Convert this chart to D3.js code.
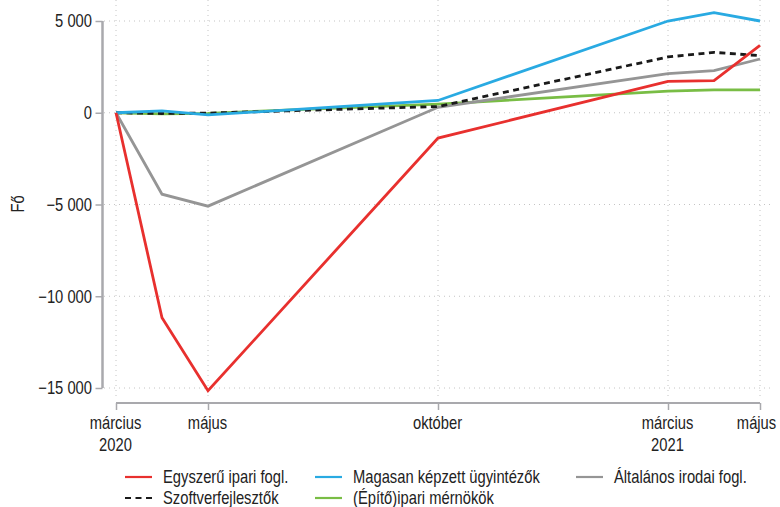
<!DOCTYPE html>
<html><head><meta charset="utf-8">
<script src="https://cdn.jsdelivr.net/npm/d3@7"></script>
<style>
body{margin:0;background:#fff;}
svg text{font-family:"Liberation Sans",Arial,sans-serif;fill:#222;}
</style></head><body>
<svg id="c" width="780" height="507"></svg>
<script>
// months since March 2020
const months = [0, 1, 2, 7, 12, 13, 14];
const egyszeru = [0, -11170, -15150, -1380, 1710, 1750, 3670];
const magasan = [0, 100, -120, 670, 5000, 5450, 5000];
const szoftver = [0, -40, -20, 340, 3040, 3290, 3110];
const altalanos = [0, -4440, -5090, 300, 2130, 2290, 2930];
const epito = [0, -60, -30, 470, 1180, 1250, 1250];

const seriesNames = ["Egyszerű ipari fogl.", "Magasan képzett ügyintézők", "Általános irodai fogl.", "Szoftverfejlesztők", "(Építő)ipari mérnökök"];
const seriesColors = ["#e8302e", "#29aae2", "#959595", "#1a1a1a", "#79bd45"];
const seriesDash = [null, null, null, "6,4.5", null];
const seriesData = [egyszeru, magasan, altalanos, szoftver, epito];

const xTickMonths = [0, 2, 7, 12, 14];
const xTickLabels = [["március", "2020"], ["május"], ["október"], ["március", "2021"], ["május"]];
const yTicks = [5000, 0, -5000, -10000, -15000];

const S = 0.82; // horizontal condensing of the text face
function condense(sel, pre) {
  sel.each(function() {
    const t = d3.select(this);
    const xv = +(t.attr("x") || 0);
    t.attr("x", xv / S).attr("transform", (pre || "") + ` scale(${S},1)`);
    t.selectAll("tspan").each(function() {
      const ts = d3.select(this);
      ts.attr("x", +(ts.attr("x") || 0) / S);
    });
  });
}

const svg = d3.select("#c");
const x = d3.scaleLinear().domain([0, 14]).range([116, 760]);
const y = d3.scaleLinear().domain([-15000, 5000]).range([388, 21]);

const fmt = v => (v < 0 ? "\u2212" : "") + d3.format(",")(Math.abs(v)).replace(/,/g, " ");

// gridlines
const grid = svg.append("g");
grid.selectAll("line.h").data(yTicks).join("line")
  .attr("x1", 104).attr("x2", 772)
  .attr("y1", d => y(d)).attr("y2", d => y(d))
  .attr("stroke", "#c4c4c4").attr("stroke-width", 1).attr("stroke-dasharray", "1,4");
grid.selectAll("line.v").data(xTickMonths).join("line")
  .attr("x1", d => x(d)).attr("x2", d => x(d))
  .attr("y1", 0).attr("y2", 400)
  .attr("stroke", "#c4c4c4").attr("stroke-width", 1).attr("stroke-dasharray", "1,4");

// y axis
const yAxis = svg.append("g").attr("transform", "translate(102.5,0)")
  .call(d3.axisLeft(y).tickValues(yTicks).tickFormat(fmt).tickSize(7).tickPadding(3.5));
yAxis.select(".domain").attr("stroke", "#a9a9ad").attr("stroke-width", 2.5)
  .attr("d", `M0,${y(5000)}V${y(-15000)}`);
yAxis.selectAll(".tick line").attr("stroke", "#a9a9ad").attr("stroke-width", 1.5);
yAxis.selectAll(".tick text").attr("font-size", 18).attr("fill", "#222").call(condense);

// x axis
const xAxis = svg.append("g").attr("transform", "translate(0,403)")
  .call(d3.axisBottom(x).tickValues(xTickMonths).tickFormat("").tickSize(7));
xAxis.select(".domain").attr("stroke", "#a9a9ad").attr("stroke-width", 2)
  .attr("d", `M${x(0)},0H${x(14)}`);
xAxis.selectAll(".tick line").attr("stroke", "#a9a9ad").attr("stroke-width", 1.5);
xAxis.selectAll(".tick").each(function(d, i) {
  const t = d3.select(this).append("text").attr("text-anchor", "middle").attr("font-size", 18).attr("fill", "#222");
  const dx = i === xTickMonths.length - 1 ? -4 : -1;
  xTickLabels[i].forEach((s, j) => t.append("tspan").attr("x", dx).attr("y", 26 + j * 22).text(s));
  condense(t);
});

// y title
svg.append("text").attr("text-anchor", "middle").attr("font-size", 18).text("Fő")
  .call(condense, "translate(24,204) rotate(-90)");

// lines
const line = d3.line().x((d, i) => x(months[i])).y(d => y(d));
const order = [4, 2, 3, 1, 0];
order.forEach(k => {
  svg.append("path").datum(seriesData[k]).attr("d", line)
    .attr("fill", "none").attr("stroke", seriesColors[k]).attr("stroke-width", 2.8)
    .attr("stroke-dasharray", seriesDash[k]).attr("stroke-linejoin", "miter");
});

// legend
const legPos = [[125, 477], [315, 477], [576, 477], [125, 498], [315, 498]];
seriesNames.forEach((n, k) => {
  const [lx, ly] = legPos[k];
  svg.append("line").attr("x1", lx).attr("x2", lx + 27).attr("y1", ly).attr("y2", ly)
    .attr("stroke", seriesColors[k]).attr("stroke-width", 2.2).attr("stroke-dasharray", seriesDash[k] ? "6,4.5" : null);
  svg.append("text").attr("x", lx + 38).attr("y", ly + 6.5).attr("font-size", 18).text(n).call(condense);
});
</script></body></html>
